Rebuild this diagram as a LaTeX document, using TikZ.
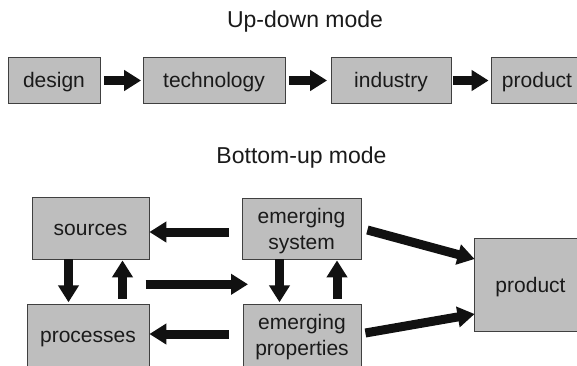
\documentclass[tikz,border=0pt]{standalone}
\usepackage{fontspec}
\setmainfont{Liberation Sans}
\usetikzlibrary{arrows.meta}
\definecolor{boxfill}{HTML}{BEBEBE}
\definecolor{boxline}{HTML}{404040}
\definecolor{txt}{HTML}{1A1A1A}
\definecolor{arrowc}{HTML}{111111}
\begin{document}
\begin{tikzpicture}[x=1pt,y=1pt,
  box/.style={draw=boxline, line width=0.8pt, fill=boxfill, text=txt,
    font=\fontsize{21}{26}\selectfont, inner sep=0pt,
    text height=15pt, text depth=0pt},
  box2/.style={box, align=center, text height=41pt, text depth=0pt},
  arr/.style={draw=arrowc, line width=9pt, -{Triangle[length=17pt,width=20pt]}},
  title/.style={text=txt, font=\fontsize{23}{28}\selectfont, anchor=base, inner sep=0pt}]
\clip (0,0) rectangle (577,365);
\useasboundingbox (0,0) rectangle (577,365);

% titles
\node[title] (t1) at (305,337) {Up-down mode};
\node[title] (t2) at (301.5,202) {Bottom-up mode};

% top row
\node[box, minimum width=92pt, minimum height=46pt] (design) at (54,285) {design};
\node[box, minimum width=142pt, minimum height=46pt] (tech) at (214,285) {technology};
\node[box, minimum width=120pt, minimum height=46pt] (ind) at (391,285) {industry};
\node[box, minimum width=92pt, minimum height=46pt] (prodA) at (537,285) {product};

\draw[arr, shorten <=3.5pt, shorten >=1.5pt] ([yshift=-0.5pt]design.east) -- ([yshift=-0.5pt]tech.west);
\draw[arr, shorten <=3.5pt, shorten >=3.5pt] ([yshift=-0.5pt]tech.east) -- ([yshift=-0.5pt]ind.west);
\draw[arr, shorten <=1.5pt, shorten >=2pt] ([yshift=-0.5pt]ind.east) -- ([yshift=-0.5pt]prodA.west);

% bottom part
\node[box, minimum width=117pt, minimum height=62pt] (src) at (90.5,137) {sources};
\node[box, minimum width=122pt, minimum height=62pt] (proc) at (88,30) {processes};
\node[box2, minimum width=119pt, minimum height=61pt] (es) at (301.5,136.5) {emerging\\system};
\node[box2, minimum width=118pt, minimum height=62pt] (ep) at (302,30) {emerging\\properties};
\node[box, minimum width=113pt, minimum height=93pt] (prodB) at (530.5,80.5) {product};

% helper coordinates
\coordinate (d1) at ([xshift=-22pt]src.south);
\coordinate (u1) at ([xshift=32pt]src.south);
\coordinate (d2) at ([xshift=-22pt]es.south);
\coordinate (u2) at ([xshift=35.5pt]es.south);
\coordinate (m1) at (145.7,80.7);
\coordinate (m2) at (248,80.7);

\draw[arr] ([xshift=-13pt,yshift=-3.5pt]es.west) -- ([yshift=-4pt]src.east);
\draw[arr] ([xshift=-14pt,yshift=1pt]ep.west) -- ([yshift=1pt]proc.east);
\draw[arr, shorten >=1.3pt] (d1) -- (d1 |- proc.north);
\draw[arr, shorten <=4.7pt, shorten >=1pt] (u1 |- proc.north) -- (u1);
\draw[arr] (m1) -- (m2);
\draw[arr, shorten >=1.3pt] (d2) -- (d2 |- ep.north);
\draw[arr, shorten <=4.7pt, shorten >=1pt] (u2 |- ep.north) -- (u2);
\draw[arr] ([xshift=6pt,yshift=-1.5pt]es.east) -- ([xshift=1pt,yshift=25.5pt]prodB.west);
\draw[arr] ([xshift=4pt,yshift=2pt]ep.east) -- ([xshift=1pt,yshift=-29.5pt]prodB.west);
\end{tikzpicture}
\end{document}
